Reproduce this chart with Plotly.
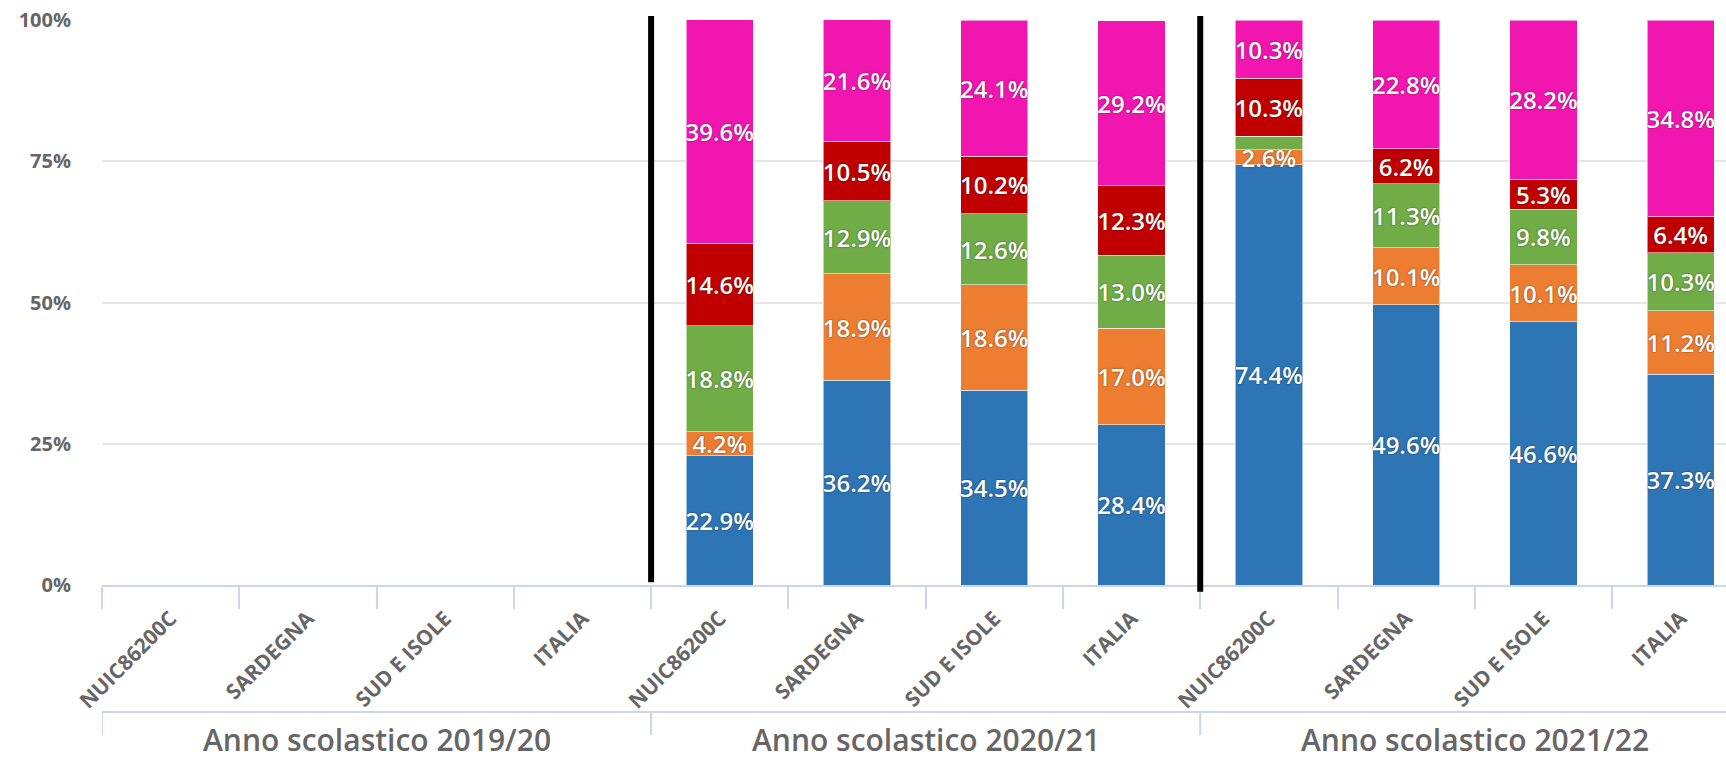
import plotly.graph_objects as go

# ---- data ----
years = ["Anno scolastico 2019/20", "Anno scolastico 2020/21", "Anno scolastico 2021/22"]
areas = ["NUIC86200C", "SARDEGNA", "SUD E ISOLE", "ITALIA"]

# values per series, ordered year by year, area by area (None = no data)
blue = [None, None, None, None, 22.9, 36.2, 34.5, 28.4, 74.4, 49.6, 46.6, 37.3]
orange = [None, None, None, None, 4.2, 18.9, 18.6, 17.0, 2.6, 10.1, 10.1, 11.2]
green = [None, None, None, None, 18.8, 12.9, 12.6, 13.0, 2.4, 11.3, 9.8, 10.3]
red = [None, None, None, None, 14.6, 10.5, 10.2, 12.3, 10.3, 6.2, 5.3, 6.4]
magenta = [None, None, None, None, 39.6, 21.6, 24.1, 29.2, 10.3, 22.8, 28.2, 34.8]
# labels shown in the reference (green 2.4 of 2021/22 NUIC86200C is hidden there)
show_label_green = [True] * 8 + [False, True, True, True]

y_ticks = [0, 25, 50, 75, 100]
y_ticktext = ["0%", "25%", "50%", "75%", "100%"]

series = [
    ("blue", blue, "#2E75B6"),
    ("orange", orange, "#ED7D31"),
    ("green", green, "#70AD47"),
    ("red", red, "#C00000"),
    ("magenta", magenta, "#F216B0"),
]

cats = [a for y in years for a in areas]
pos = list(range(len(cats)))

fig = go.Figure()
for name, vals, col in series:
    texts = []
    for i, v in enumerate(vals):
        if v is None:
            texts.append("")
        elif name == "green" and not show_label_green[i]:
            texts.append("")
        else:
            texts.append(f"{v:.1f}%")
    fig.add_trace(go.Bar(
        x=pos, y=vals, name=name, width=0.49,
        marker=dict(color=col, line=dict(color="rgba(255,255,255,0.55)", width=1)),
        text=texts, textposition="inside", insidetextanchor="middle",
        textangle=0, constraintext="none",
        textfont=dict(family="Open Sans", size=24, color="white", weight=600,
                      shadow="0px 0px 2px rgba(0,0,0,0.55)"),
        hoverinfo="skip",
    ))

shapes = []
# thick black separators between school years
for xb, y0 in [(3.5, 0.005), (7.5, -0.012)]:
    shapes.append(dict(type="line", xref="x", yref="paper", x0=xb, x1=xb,
                       y0=y0, y1=1.007, line=dict(color="black", width=6)))
# second-level axis line and group dividers
shapes.append(dict(type="line", xref="paper", yref="paper", x0=0, x1=1,
                   y0=-0.2248, y1=-0.2248, line=dict(color="#ccd6eb", width=2)))
for xb in [-0.5, 3.5, 7.5, 11.5]:
    shapes.append(dict(type="line", xref="x", yref="paper", x0=xb, x1=xb,
                       y0=-0.2248, y1=-0.2655, line=dict(color="#ccd6eb", width=2)))

annotations = []
for gi, y in enumerate(years):
    annotations.append(dict(x=gi * len(areas) + (len(areas) - 1) / 2, y=-0.3133,
                            xref="x", yref="paper", text=y, showarrow=False,
                            xanchor="center", yanchor="bottom",
                            font=dict(family="Open Sans", size=30, color="#666666",
                                      weight=600)))

fig.update_layout(
    width=1726, height=763,
    margin=dict(l=102, r=0, t=20, b=178, autoexpand=False),
    barmode="stack",
    showlegend=False,
    hovermode=False,
    plot_bgcolor="white", paper_bgcolor="white",
    shapes=shapes, annotations=annotations,
    xaxis=dict(
        range=[-0.5, 11.33],
        tickmode="array", tickvals=pos, ticktext=cats,
        tickangle=-45, ticks="", ticklabelstandoff=11,
        tickfont=dict(family="Open Sans", size=21, color="#666666", weight="bold"),
        showgrid=False, zeroline=False, automargin=False,
        showline=True, linecolor="#ccd6eb", linewidth=2,
        minor=dict(tickmode="array", tickvals=[i - 0.5 for i in pos],
                   ticks="outside", ticklen=22, tickwidth=2, tickcolor="#ccd6eb",
                   showgrid=False),
        fixedrange=True,
    ),
    yaxis=dict(
        range=[0, 100],
        tickmode="array", tickvals=y_ticks, ticktext=y_ticktext,
        tickfont=dict(family="Open Sans", size=20, color="#666666", weight="bold"),
        showgrid=True, gridcolor="#e6e6e6", gridwidth=2,
        zeroline=False, showline=False, ticks="", ticklabelstandoff=30,
        ticklabeloverflow="allow",
        automargin=False, fixedrange=True,
    ),
)

# remove the default 8px page margin so the figure fills the window exactly
fig.write_html("out.html",
               config={"displayModeBar": False, "staticPlot": True},
               post_script="document.body.style.margin='0px';document.body.style.overflow='hidden';")
